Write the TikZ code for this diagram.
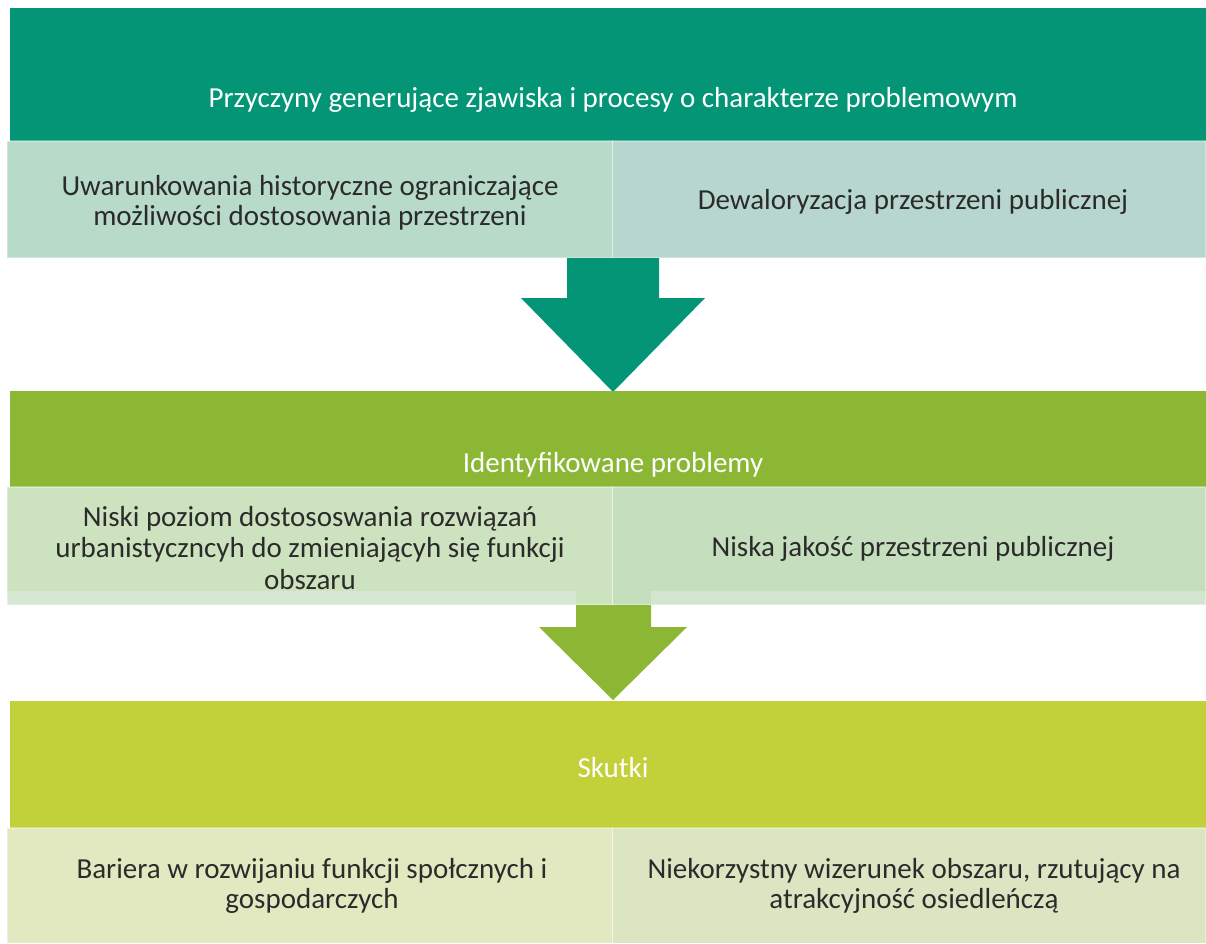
\documentclass[tikz,border=0pt]{standalone}
\usepackage{fontspec}
\setmainfont{Carlito}
\definecolor{cteal}{HTML}{039575}
\definecolor{cgreen}{HTML}{8BB734}
\definecolor{clime}{HTML}{C2D03A}
\definecolor{topL}{HTML}{B7DAC9}
\definecolor{topR}{HTML}{B7D6CE}
\definecolor{midL}{HTML}{CDE2BE}
\definecolor{midR}{HTML}{C5DFBE}
\definecolor{midbandL}{HTML}{D7E8D2}
\definecolor{midbandR}{HTML}{D2E6CF}
\definecolor{botL}{HTML}{E2E9C0}
\definecolor{botR}{HTML}{DBE5C2}
\definecolor{txt}{HTML}{2B2B2B}
\tikzset{
  headtext/.style={text=white, font=\fontsize{29}{30}\selectfont, align=center, inner sep=0pt},
  celltext/.style={text=txt, font=\fontsize{29}{30}\selectfont, align=center, inner sep=0pt},
  celltextb/.style={text=txt, font=\fontsize{29}{31.5}\selectfont, align=center, inner sep=0pt},
  cellframe/.style={draw=white, draw opacity=0.35, line width=1.2pt}
}
\begin{document}
\begin{tikzpicture}[x=1pt,y=-1pt]
\useasboundingbox (0,0) rectangle (1206,943);
% ---------- section 1 ----------
\fill[cteal] (10,8) rectangle (1206,141);
\node[headtext] (h1) at (613,100) {Przyczyny generujące zjawiska i procesy o charakterze problemowym};
\fill[topL] (7,141) rectangle (612.5,258);
\fill[topR] (612.5,141) rectangle (1206,258);
\draw[cellframe] (7,141) rectangle (612.5,258);
\draw[cellframe] (612.5,141) rectangle (1206,258);
\node[celltext] (c1a) at (310,203) {Uwarunkowania historyczne ograniczające\\możliwości dostosowania przestrzeni};
\node[celltext] (c1b) at (913,202) {Dewaloryzacja przestrzeni publicznej};
% arrow 1
\fill[cteal] (567,258) -- (659,258) -- (659,298) -- (705,298) -- (613,392) -- (521,298) -- (567,298) -- cycle;
% ---------- section 2 ----------
\fill[cgreen] (10,391) rectangle (1206,487);
\node[headtext] (h2) at (613,465) {Identyfikowane problemy};
\fill[midL] (7,487) rectangle (612.5,605);
\fill[midR] (612.5,487) rectangle (1206,605);
\fill[midbandL] (7,591) rectangle (576,605);
\fill[midbandR] (651,591) rectangle (1206,605);
\draw[cellframe] (7,487) rectangle (612.5,605);
\draw[cellframe] (612.5,487) rectangle (1206,605);
\node[celltextb] (c2a) at (310,548) {Niski poziom dostososwania rozwiązań\\urbanistyczncyh do zmieniającyh się funkcji\\obszaru};
\node[celltext] (c2b) at (913,549) {Niska jakość przestrzeni publicznej};
% arrow 2
\fill[cgreen] (576,605) -- (651,605) -- (651,627) -- (687,627) -- (613,700) -- (539,627) -- (576,627) -- cycle;
% ---------- section 3 ----------
\fill[clime] (10,701) rectangle (1206,828);
\node[headtext] (h3) at (613,768) {Skutki};
\fill[botL] (7,828) rectangle (612.5,943);
\fill[botR] (612.5,828) rectangle (1206,943);
\draw[cellframe] (7,828) rectangle (612.5,950);
\draw[cellframe] (612.5,828) rectangle (1206,950);
\node[celltext] (c3a) at (312,886) {Bariera w rozwijaniu funkcji społcznych i\\gospodarczych};
\node[celltext] (c3b) at (914,886) {Niekorzystny wizerunek obszaru, rzutujący na\\atrakcyjność osiedleńczą};
\end{tikzpicture}
\end{document}
